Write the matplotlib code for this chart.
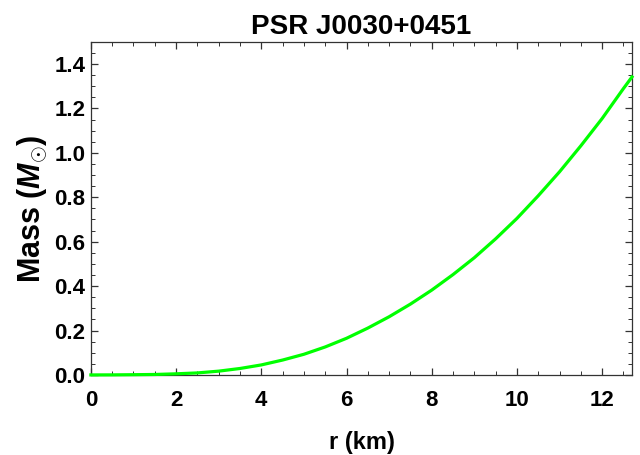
import matplotlib
matplotlib.use("Agg")
import matplotlib.pyplot as plt
from matplotlib.ticker import MultipleLocator

# interior mass profile
r_km = [0, 0.5, 1, 1.5, 2, 2.5, 3, 3.5, 4, 4.5, 5, 5.5, 6, 6.5, 7, 7.5,
        8, 8.5, 9, 9.5, 10, 10.5, 11, 11.5, 12, 12.5, 12.7]
mass = [0, 0.0002, 0.001, 0.002, 0.005, 0.009, 0.017, 0.029, 0.045, 0.067,
        0.093, 0.126, 0.165, 0.211, 0.262, 0.319, 0.382, 0.452, 0.528, 0.613,
        0.705, 0.807, 0.915, 1.032, 1.155, 1.290, 1.342]

title = "PSR J0030+0451"
xlabel = "r (km)"
ylabel = r"Mass ($M_{\odot}$)"

plt.rcParams['font.family'] = ['Liberation Sans', 'DejaVu Sans']
plt.rcParams['font.weight'] = 'bold'
plt.rcParams['mathtext.fontset'] = 'custom'
plt.rcParams['mathtext.it'] = 'Liberation Sans:italic:bold'
plt.rcParams['mathtext.rm'] = 'Liberation Sans:bold'

fig = plt.figure(figsize=(6.4, 4.55), dpi=100)
ax = fig.add_axes([0.142, 0.176, 0.8455, 0.732])

ax.plot(r_km, mass, color=(0, 1, 0), lw=2.3, clip_on=False, zorder=5)

ax.set_xlim(0, 12.7)
ax.set_ylim(0, 1.5)
ax.xaxis.set_major_locator(MultipleLocator(2))
ax.xaxis.set_minor_locator(MultipleLocator(0.5))
ax.yaxis.set_major_locator(MultipleLocator(0.2))
ax.yaxis.set_minor_locator(MultipleLocator(0.05))
ax.yaxis.set_major_formatter(matplotlib.ticker.FormatStrFormatter('%.1f'))

ax.tick_params(which='both', direction='in', top=True, right=True, color='#333333')
ax.tick_params(which='major', length=5, width=0.9, labelsize=16)
ax.tick_params(axis='x', which='major', pad=11)
ax.tick_params(axis='y', which='major', pad=4)
ax.tick_params(which='minor', length=2.6, width=0.7)
for s in ax.spines.values():
    s.set_color('#333333')
    s.set_linewidth(0.9)

ax.set_title(title, fontsize=20, fontweight='bold', pad=6)
ax.set_xlabel(xlabel, fontsize=17, fontweight='bold', labelpad=14)
ax.set_ylabel(ylabel, fontsize=22, fontweight='bold', labelpad=4)

fig.savefig("out.png", dpi=100)
